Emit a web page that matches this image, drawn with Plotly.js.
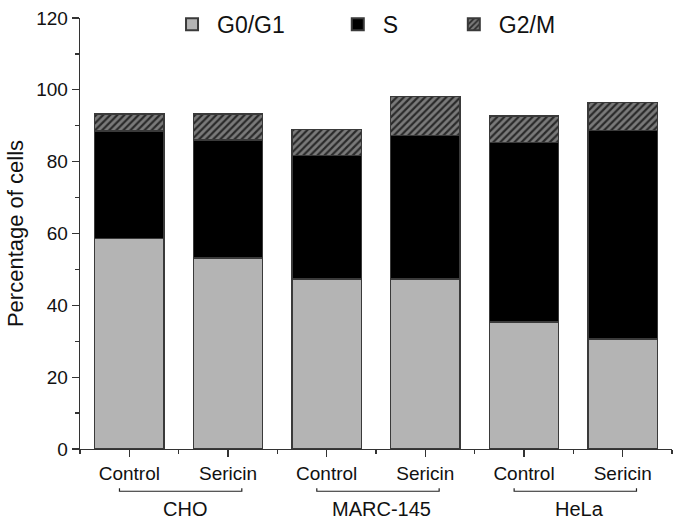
<!DOCTYPE html>
<html>
<head>
<meta charset="utf-8">
<script src="https://cdn.plot.ly/plotly-3.0.1.min.js"></script>
<style>html,body{margin:0;padding:0;background:#fff}#chart{width:675px;height:523px}</style>
</head>
<body>
<div id="chart"></div>
<script>
const conditions = ["Control", "Sericin", "Control", "Sericin", "Control", "Sericin"];
const groups = ["CHO", "MARC-145", "HeLa"];
const g0g1 = [58.6, 53.2, 47.3, 47.3, 35.4, 30.6];
const sPhase = [29.9, 32.8, 34.4, 39.9, 50.0, 58.0];
const g2m = [4.8, 7.3, 7.3, 10.9, 7.3, 7.9];
const yTicks = [0, 20, 40, 60, 80, 100, 120];

const xIdx = conditions.map((c, i) => i);
const font = "Liberation Sans, Arial, sans-serif";
const edge = {color: "#3a3a3a", width: 1.3};

const traces = [
  {type: "bar", name: "G0/G1", x: xIdx, y: g0g1, width: 0.7,
   marker: {color: "#b4b4b4", line: edge}, legend: "legend"},
  {type: "bar", name: "S", x: xIdx, y: sPhase, width: 0.7,
   marker: {color: "#000000", line: edge}, legend: "legend2"},
  {type: "bar", name: "G2/M", x: xIdx, y: g2m, width: 0.7,
   marker: {color: "#6a6a6a", line: edge,
            pattern: {shape: "/", bgcolor: "#7a7a7a", fgcolor: "#2a2a2a", size: 5, solidity: 0.45}},
   legend: "legend3"}
];

const shapes = [];
const annotations = [];
groups.forEach((g, k) => {
  const c = 2 * k + 0.5;
  const x0 = c - 0.6, x1 = c + 0.64;
  shapes.push({type: "path", xref: "x", yref: "paper",
    path: `M${x0},-0.091 L${x0},-0.098 L${x1},-0.098 L${x1},-0.091`,
    line: {color: "#222", width: 1.2}});
  annotations.push({xref: "x", yref: "paper", x: c + 0.06, y: -0.14, yanchor: "middle",
    text: g, showarrow: false, font: {family: font, size: 20, color: "#111"}});
});

const legendBase = {orientation: "h", yanchor: "top", y: 1.035, xanchor: "left",
  bgcolor: "rgba(0,0,0,0)", font: {family: font, size: 23, color: "#111"},
  itemwidth: 40, itemsizing: "constant"};

const layout = {
  width: 675, height: 523,
  margin: {l: 80, r: 3, t: 12, b: 74},
  paper_bgcolor: "#fff", plot_bgcolor: "#fff",
  barmode: "stack",
  showlegend: true,
  legend: Object.assign({}, legendBase, {x: 0.147}),
  legend2: Object.assign({}, legendBase, {x: 0.427}),
  legend3: Object.assign({}, legendBase, {x: 0.623}),
  xaxis: {range: [-0.5, 5.5], tickvals: xIdx, ticktext: conditions,
    showline: true, linecolor: "#333", linewidth: 1.3, showgrid: false, zeroline: false,
    ticks: "outside", ticklen: 7, tickcolor: "#333", tickwidth: 1.3,
    minor: {tick0: 0.5, dtick: 1, ticks: "outside", ticklen: 4, tickcolor: "#333", showgrid: false},
    tickfont: {family: font, size: 19, color: "#111"}},
  yaxis: {range: [0, 120], tickvals: yTicks, showline: true, linecolor: "#333", linewidth: 1.3,
    showgrid: false, zeroline: false, ticks: "outside", ticklen: 7, tickcolor: "#333", tickwidth: 1.3,
    minor: {dtick: 10, ticks: "outside", ticklen: 4, tickcolor: "#333", showgrid: false},
    tickfont: {family: font, size: 19, color: "#111"},
    title: {text: "Percentage of cells", font: {family: font, size: 22, color: "#111"}, standoff: 6}},
  shapes: shapes,
  annotations: annotations
};

Plotly.newPlot("chart", traces, layout, {displayModeBar: false, staticPlot: true});
</script>
</body>
</html>
